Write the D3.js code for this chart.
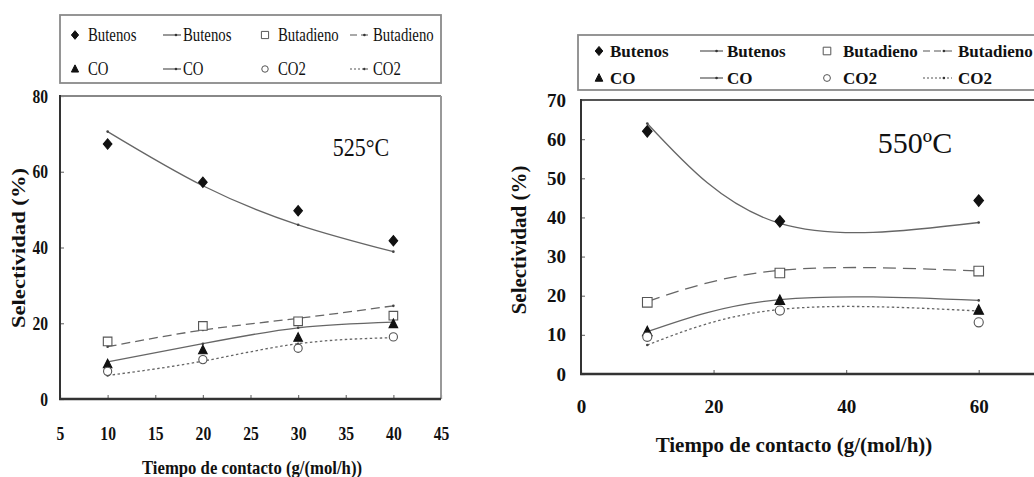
<!DOCTYPE html>
<html lang="es">
<head>
<meta charset="utf-8">
<title>Selectividad vs tiempo de contacto</title>
<script src="https://d3js.org/d3.v7.min.js"></script>
<style>
body { margin: 0; background: #fff; }
svg text { font-family: "Liberation Serif", "Times New Roman", serif; fill: #111; }
</style>
</head>
<body>
<div id="chart"></div>
<script>
var series = ["Butenos", "Butadieno", "CO", "CO2"];

var tiempo525 = [10, 20, 30, 40];
var butenos525 = [67.3, 57.2, 49.7, 41.8];
var butadieno525 = [15.2, 19.3, 20.5, 22.0];
var co525 = [9.2, 12.9, 16.2, 19.8];
var co2_525 = [7.3, 10.4, 13.4, 16.4];
var butenosAjuste525 = [70.6, 56.3, 46.0, 38.9];
var butadienoAjuste525 = [13.8, 18.2, 21.3, 24.6];
var coAjuste525 = [9.8, 14.6, 18.8, 20.3];
var co2Ajuste525 = [6.2, 10.0, 14.6, 16.2];

var tiempo550 = [10, 30, 60];
var butenos550 = [62.0, 39.0, 44.3];
var butadieno550 = [18.3, 25.8, 26.3];
var co550 = [10.8, 18.8, 16.3];
var co2_550 = [9.5, 16.2, 13.2];
var butenosAjuste550 = [64.0, 38.5, 38.7];
var butadienoAjuste550 = [18.5, 26.5, 26.3];
var coAjuste550 = [10.8, 19.0, 18.8];
var co2Ajuste550 = [7.4, 16.5, 16.1];

var ticksX525 = [5, 10, 15, 20, 25, 30, 35, 40, 45];
var ticksY525 = [0, 20, 40, 60, 80];
var ticksX550 = [0, 20, 40, 60];
var ticksY550 = [0, 10, 20, 30, 40, 50, 60, 70];

// estilo de cada serie
var estilo = {
  Butenos:   {marca: "rombo",     lleno: true,  dash: null},
  Butadieno: {marca: "cuadro",    lleno: false, dash: "dash"},
  CO:        {marca: "triangulo", lleno: true,  dash: null},
  CO2:       {marca: "circulo",   lleno: false, dash: "dot"}
};

var svg = d3.select("#chart").append("svg")
  .attr("width", 1034)
  .attr("height", 477);

function marca(tipo, s) {
  if (tipo == "rombo") return "M0," + (-s * 1.2) + "L" + s + ",0L0," + (s * 1.2) + "L" + (-s) + ",0Z";
  if (tipo == "triangulo") return "M0," + (-s * 1.15) + "L" + s + "," + (s * 0.85) + "L" + (-s) + "," + (s * 0.85) + "Z";
  if (tipo == "cuadro") return "M" + (-s) + "," + (-s) + "H" + s + "V" + s + "H" + (-s) + "Z";
  var p = d3.path();
  p.arc(0, 0, s, 0, 2 * Math.PI);
  return p.toString();
}

// estrecha un texto (la figura de 525 esta comprimida en horizontal)
function condensar(sel, k) {
  sel.each(function() {
    var w = this.getComputedTextLength();
    d3.select(this).attr("textLength", w * k).attr("lengthAdjust", "spacingAndGlyphs");
  });
}

function panel(p) {
  var g = svg.append("g");
  var x = d3.scaleLinear().domain(p.xDom).range([p.left, p.right]);
  var y = d3.scaleLinear().domain(p.yDom).range([p.bottom, p.top]);

  // ejes con marcas hacia dentro
  var ax = g.append("g")
    .attr("transform", "translate(0," + p.bottom + ")")
    .call(d3.axisBottom(x).tickValues(p.xTicks).tickSizeInner(-4).tickSizeOuter(0).tickPadding(p.padX));
  var ay = g.append("g")
    .attr("transform", "translate(" + p.left + ",0)")
    .call(d3.axisLeft(y).tickValues(p.yTicks).tickSizeInner(-4).tickSizeOuter(0).tickPadding(p.padY));
  [ax, ay].forEach(function(a) {
    a.select(".domain").remove();
    a.selectAll("line").attr("stroke", "#777").attr("stroke-width", 1.2);
    a.selectAll("text").attr("font-size", p.fsTick).attr("font-weight", "bold");
    if (p.k < 1) condensar(a.selectAll("text"), p.k);
  });

  // marco
  g.append("line").attr("x1", p.left).attr("x2", p.right).attr("y1", p.top).attr("y2", p.top)
    .attr("stroke", p.colorTop).attr("stroke-width", 2);
  g.append("line").attr("x1", p.right).attr("x2", p.right).attr("y1", p.top).attr("y2", p.bottom)
    .attr("stroke", "#999").attr("stroke-width", 2);
  g.append("line").attr("x1", p.left).attr("x2", p.left).attr("y1", p.top - 1).attr("y2", p.bottom)
    .attr("stroke", "#333").attr("stroke-width", 2);
  g.append("line").attr("x1", p.left - 1).attr("x2", p.right).attr("y1", p.bottom).attr("y2", p.bottom)
    .attr("stroke", "#333").attr("stroke-width", 2.5);

  // curvas de ajuste
  var linea = d3.line()
    .x(function(d) { return x(d[0]); })
    .y(function(d) { return y(d[1]); })
    .curve(d3.curveNatural);
  series.forEach(function(s, i) {
    var datos = p.tiempo.map(function(t, j) { return [t, p.ajuste[i][j]]; });
    var dash = estilo[s].dash == "dash" ? p.dashLargo : (estilo[s].dash == "dot" ? "2.5,2.5" : null);
    g.append("path")
      .datum(datos)
      .attr("d", linea)
      .attr("fill", "none")
      .attr("stroke", "#666")
      .attr("stroke-width", 1.3)
      .attr("stroke-dasharray", dash);
    g.selectAll(null).data(datos).enter().append("circle")
      .attr("cx", function(d) { return x(d[0]); })
      .attr("cy", function(d) { return y(d[1]); })
      .attr("r", 1.3)
      .attr("fill", "#444");
  });

  // puntos experimentales
  series.forEach(function(s, i) {
    var st = estilo[s];
    g.selectAll(null).data(p.tiempo).enter().append("path")
      .attr("transform", function(t, j) { return "translate(" + x(t) + "," + y(p.puntos[i][j]) + ")"; })
      .attr("d", marca(st.marca, st.marca == "circulo" ? p.ms * 0.95 : p.ms))
      .attr("fill", st.lleno ? "#111" : "#fff")
      .attr("stroke", st.lleno ? "#111" : "#555")
      .attr("stroke-width", 1.1);
  });

  // titulos
  var tx = g.append("text")
    .attr("x", p.titleX[0]).attr("y", p.titleX[1])
    .attr("text-anchor", "middle").attr("dominant-baseline", "central")
    .attr("font-size", p.fsTitle).attr("font-weight", "bold")
    .text("Tiempo de contacto (g/(mol/h))");
  var ty = g.append("text")
    .attr("transform", "translate(" + p.titleY[0] + "," + p.titleY[1] + ") rotate(-90)")
    .attr("text-anchor", "middle").attr("dominant-baseline", "central")
    .attr("font-size", p.fsTitleY).attr("font-weight", "bold")
    .text("Selectividad (%)");
  var tt = g.append("text")
    .attr("x", p.temp[0]).attr("y", p.temp[1])
    .attr("text-anchor", "middle").attr("dominant-baseline", "central")
    .attr("font-size", p.fsTemp)
    .attr("fill", "#222")
    .text(p.tempText);
  if (p.k < 1) {
    tx.attr("textLength", p.titleXLen).attr("lengthAdjust", "spacingAndGlyphs");
    ty.attr("textLength", p.titleYLen).attr("lengthAdjust", "spacingAndGlyphs");
    condensar(tt, 0.88);
  }

  // leyenda
  var lg = g.append("g");
  lg.append("rect")
    .attr("x", p.leg.x).attr("y", p.leg.y).attr("width", p.leg.w).attr("height", p.leg.h)
    .attr("fill", "#fff").attr("stroke", "#8a8a8a").attr("stroke-width", 1.8);
  var c = p.leg.cols;
  series.forEach(function(s, i) {
    var fila = p.leg.rows[Math.floor(i / 2)];
    var base = (i % 2) * 2;
    var st = estilo[s];
    var mx = c[base][0], lx = c[base + 1];
    lg.append("path")
      .attr("transform", "translate(" + mx + "," + fila + ")")
      .attr("d", marca(st.marca, st.marca == "circulo" ? p.leg.ms * 0.9 : p.leg.ms))
      .attr("fill", st.lleno ? "#111" : "#fff")
      .attr("stroke", st.lleno ? "#111" : "#555")
      .attr("stroke-width", 1);
    var dash = st.dash == "dash" ? "7,4" : (st.dash == "dot" ? "2,2" : null);
    lg.append("line")
      .attr("x1", lx[0]).attr("x2", lx[1]).attr("y1", fila).attr("y2", fila)
      .attr("stroke", "#555").attr("stroke-width", 1.2)
      .attr("stroke-dasharray", dash);
    lg.append("circle")
      .attr("cx", lx[0] + (lx[1] - lx[0]) * 0.72).attr("cy", fila).attr("r", 1.3).attr("fill", "#333");
    [[c[base][1], s], [lx[2], s]].forEach(function(t) {
      var e = lg.append("text")
        .attr("x", t[0]).attr("y", fila)
        .attr("dominant-baseline", "central")
        .attr("font-size", p.leg.fs)
        .attr("font-weight", p.leg.bold ? "bold" : "normal")
        .text(t[1]);
      if (p.k < 1) condensar(e, p.k);
    });
  });
}

panel({
  xDom: [5, 45], yDom: [0, 80], left: 60, right: 441, top: 96, bottom: 399,
  xTicks: ticksX525, yTicks: ticksY525, padX: 28, padY: 12,
  tiempo: tiempo525,
  puntos: [butenos525, butadieno525, co525, co2_525],
  ajuste: [butenosAjuste525, butadienoAjuste525, coAjuste525, co2Ajuste525],
  fsTick: 19, k: 0.82, colorTop: "#888", ms: 4.3, dashLargo: "9,5",
  fsTitle: 19, titleX: [252, 467], titleXLen: 220,
  fsTitleY: 19, titleY: [18, 248], titleYLen: 160,
  temp: [361, 147], tempText: "525°C", fsTemp: 25,
  leg: {x: 60, y: 15, w: 381, h: 68, rows: [35, 69], ms: 3.6, fs: 18, bold: false,
        cols: [[75, 88], [163, 181, 183], [265, 278], [350, 370, 373]]}
});

panel({
  xDom: [0, 70], yDom: [0, 70], left: 581, right: 1045, top: 100, bottom: 374,
  xTicks: ticksX550, yTicks: ticksY550, padX: 26, padY: 15,
  tiempo: tiempo550,
  puntos: [butenos550, butadieno550, co550, co2_550],
  ajuste: [butenosAjuste550, butadienoAjuste550, coAjuste550, co2Ajuste550],
  fsTick: 19, k: 1, colorTop: "#555", ms: 4.8, dashLargo: "13,7",
  fsTitle: 21, titleX: [794, 445],
  fsTitleY: 21, titleY: [519, 240],
  temp: [915, 142], tempText: "550ºC", fsTemp: 30,
  leg: {x: 578, y: 35, w: 500, h: 55, rows: [51, 78], ms: 3.8, fs: 17, bold: true,
        cols: [[599, 610], [700, 723, 727], [827, 843], [923, 952, 958]]}
});
</script>
</body>
</html>
